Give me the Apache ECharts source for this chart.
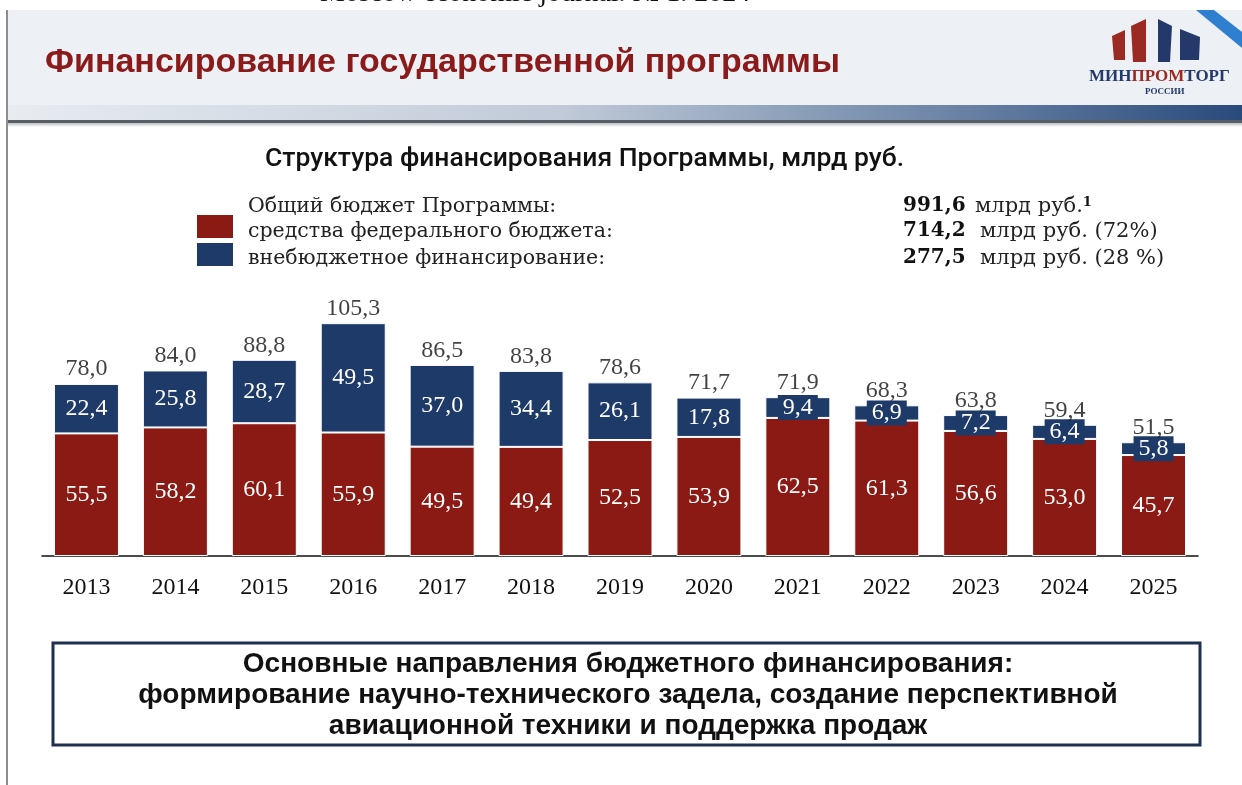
<!DOCTYPE html>
<html><head><meta charset="utf-8">
<script src="https://cdn.jsdelivr.net/npm/echarts@6/dist/echarts.min.js"></script>
<style>html,body{margin:0;padding:0;background:#fff}#c{width:1242px;height:785px}</style>
</head><body><div id="c"></div>
<script>
const years = ['2013','2014','2015','2016','2017','2018','2019','2020','2021','2022','2023','2024','2025'];
const federal = [55.5,58.2,60.1,55.9,49.5,49.4,52.5,53.9,62.5,61.3,56.6,53.0,45.7];
const extra = [22.4,25.8,28.7,49.5,37.0,34.4,26.1,17.8,9.4,6.9,7.2,6.4,5.8];
const totals = [78.0,84.0,88.8,105.3,86.5,83.8,78.6,71.7,71.9,68.3,63.8,59.4,51.5];
const legendNames = ['Общий бюджет Программы:','средства федерального бюджета:','внебюджетное финансирование:'];
const legendValues = ['991,6','714,2','277,5'];
const legendUnits = ['млрд руб.','млрд руб. (72%)','млрд руб. (28 %)'];

const RED = '#8b1a14', BLUE = '#1e3a68';
const fmt = v => v.toFixed(1).replace('.', ',');
const SERIF = '"DejaVu Serif", "Liberation Serif", serif';
const TSERIF = '"Liberation Serif", "DejaVu Serif", serif';
const SANS = '"Liberation Sans", Arial, sans-serif';

const chart = echarts.init(document.getElementById('c'), null, {renderer:'canvas'});

const graphics = [
  {type:'text', left:320, top:-20, style:{text:'Moscow economic journal. № 1. 2024', font:'28px '+TSERIF, fill:'#111'}},
  {type:'rect', shape:{x:8,y:10,width:1234,height:96}, style:{fill:'#edf1f5'}},
  {type:'rect', shape:{x:8,y:105,width:1234,height:15}, style:{fill:new echarts.graphic.LinearGradient(0,0,1,0,[
    {offset:0,color:'#e8ecf1'},{offset:0.45,color:'#c0cad8'},{offset:0.75,color:'#6f87a8'},{offset:1,color:'#2a4a7c'}])}},
  {type:'rect', shape:{x:8,y:120,width:1234,height:3}, style:{fill:'#5a5f66'}},
  {type:'rect', shape:{x:8,y:123,width:1234,height:4}, style:{fill:new echarts.graphic.LinearGradient(0,0,0,1,[
    {offset:0,color:'#b8bcc2'},{offset:1,color:'#ffffff'}])}},
  {type:'rect', shape:{x:6,y:10,width:2,height:775}, style:{fill:'#8a8d92'}},
  {type:'polygon', shape:{points:[[1196,10],[1214,10],[1242,32],[1242,48]]}, style:{fill:'#2f7fd0'}},
  {type:'text', left:45, top:46, style:{text:'Финансирование государственной программы', font:'bold 34px '+SANS, fill:'#8b1a1a'}},
  {type:'polygon', shape:{points:[[1112,36],[1125,30],[1125,60],[1114,60]]}, style:{fill:'#9a2a22'}},
  {type:'polygon', shape:{points:[[1131,26],[1146,19],[1146,62],[1133,62]]}, style:{fill:'#9a2a22'}},
  {type:'polygon', shape:{points:[[1158,19],[1172,26],[1170,62],[1158,62]]}, style:{fill:'#24386a'}},
  {type:'polygon', shape:{points:[[1180,29],[1200,37],[1199,60],[1180,60]]}, style:{fill:'#24386a'}},
  {type:'text', left:1089, top:68, style:{rich:{b:{font:'bold 17px '+TSERIF, fill:'#24386a'}, r:{font:'bold 17px '+TSERIF, fill:'#9a2a22'}}, text:'{b|МИН}{r|ПРОМ}{b|ТОРГ}'}},
  {type:'text', left:1145, top:87, style:{text:'РОССИИ', font:'bold 9px '+TSERIF, fill:'#24386a'}},
  {type:'text', left:265, top:146, style:{text:'Структура финансирования Программы, млрд руб.', font:'500 26.5px Roboto, "Liberation Sans", sans-serif', fill:'#111'}},
  {type:'rect', shape:{x:197,y:215,width:36,height:23}, style:{fill:RED}},
  {type:'rect', shape:{x:197,y:243,width:36,height:23}, style:{fill:BLUE}}
];
const legendY = [196, 221, 248];
legendNames.forEach((t,i)=>{
  graphics.push({type:'text', left:248, top:legendY[i], style:{text:t, font:'20.5px '+SERIF, fill:'#222'}});
  graphics.push({type:'text', left:903, top:legendY[i], style:{text:legendValues[i], font:'bold 20px '+SERIF, fill:'#111'}});
  if (i === 0) {
    graphics.push({type:'text', left:975, top:legendY[i], style:{rich:{u:{font:'21px '+SERIF, fill:'#222'}, s:{font:'bold 13px '+SERIF, fill:'#111', verticalAlign:'top', padding:[0,0,8,0]}}, text:'{u|'+legendUnits[i]+'}{s|1}'}});
  } else {
    graphics.push({type:'text', left:980, top:legendY[i], style:{text:legendUnits[i], font:'21px '+SERIF, fill:'#222'}});
  }
});
graphics.push({type:'rect', shape:{x:53,y:643,width:1147,height:102}, style:{fill:'#fff', stroke:'#1f3050', lineWidth:3}});
graphics.push({type:'text', x:628, y:695, style:{text:'Основные направления бюджетного финансирования:\nформирование научно-технического задела, создание перспективной\nавиационной техники и поддержка продаж', font:'bold 28px '+SANS, fill:'#111', align:'center', verticalAlign:'middle', lineHeight:31}});

const labelFont = {fontFamily:TSERIF, fontSize:24};

chart.setOption({
  animation:false,
  backgroundColor:'#fff',
  graphic: graphics,
  grid:{left:42, right:44, top:313, bottom:229},
  xAxis:{type:'category', data:years,
    axisLine:{lineStyle:{color:'#111', width:1.5}}, axisTick:{show:false},
    axisLabel:{color:'#111', fontFamily:TSERIF, fontSize:24, margin:20}},
  yAxis:{type:'value', min:0, max:110, show:false, splitLine:{show:false}},
  series:[
    {name:'средства федерального бюджета', type:'bar', stack:'s', barWidth:65, data:federal,
     itemStyle:{color:RED, borderColor:'#fff', borderWidth:1},
     label:{show:true, position:'inside', color:'#fff', ...labelFont, formatter:p=>fmt(p.value)}},
    {name:'внебюджетное финансирование', type:'bar', stack:'s', barWidth:65, data:extra,
     itemStyle:{color:BLUE, borderColor:'#fff', borderWidth:1},
     label:{show:true, position:'inside', color:'#fff', ...labelFont, backgroundColor:BLUE, padding:[1,5,0,5], formatter:p=>fmt(p.value)}},
    {name:'total', type:'scatter', data:totals, symbolSize:1, itemStyle:{color:'rgba(0,0,0,0)'},
     label:{show:true, position:'top', distance:2, color:'#111', ...labelFont, formatter:p=>fmt(p.value)}}
  ]
});
</script></body></html>
